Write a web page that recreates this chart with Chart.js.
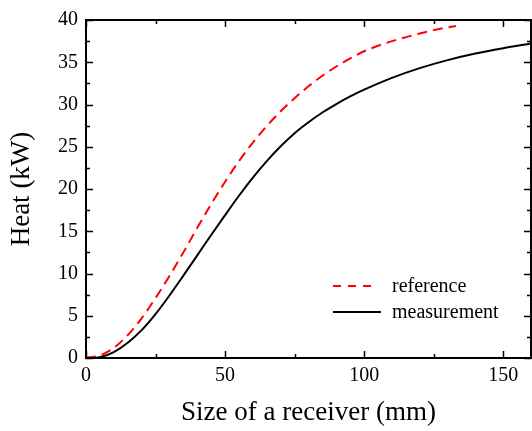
<!DOCTYPE html>
<html>
<head>
<meta charset="utf-8">
<script src="https://cdn.jsdelivr.net/npm/chart.js@4/dist/chart.umd.min.js"></script>
<style>
  html, body { margin: 0; padding: 0; background: #fff; }
  #wrap { width: 532px; height: 431px; position: relative; }
</style>
</head>
<body>
<div id="wrap"><canvas id="c" width="532" height="431"></canvas></div>
<script>
// ---- data ----
const measX = [0, 5, 10, 15, 20, 25, 30, 35, 40, 45, 50, 55, 60, 65, 70, 75, 80, 85, 90, 95, 100, 110, 120, 130, 140, 150, 160];
const measY = [0, 0.1, 0.7, 1.8, 3.3, 5.2, 7.4, 9.75, 12.15, 14.55, 16.9, 19.2, 21.35, 23.3, 25.05, 26.6, 27.9, 29.05, 30.05, 30.95, 31.75, 33.15, 34.3, 35.25, 36.03, 36.66, 37.21];
const refX = [0, 5, 10, 15, 20, 25, 30, 35, 40, 45, 50, 55, 60, 65, 70, 75, 80, 85, 90, 95, 100, 110, 120, 125, 133];
const refY = [0, 0.3, 1.2, 2.7, 4.7, 7.1, 9.7, 12.5, 15.4, 18.2, 20.85, 23.3, 25.5, 27.45, 29.2, 30.75, 32.15, 33.4, 34.5, 35.45, 36.3, 37.5, 38.4, 38.8, 39.3];
const seriesNames = ["reference", "measurement"];
const xTicks = [0, 50, 100, 150];
const yTicks = [0, 5, 10, 15, 20, 25, 30, 35, 40];
const xTitle = "Size of a receiver (mm)";
const yTitle = "Heat (kW)";

const FONT = "'Liberation Serif', 'Times New Roman', serif";

function pts(xs, ys) { return xs.map((x, i) => ({ x: x, y: ys[i] })); }

const framePlugin = {
  id: 'frame',
  afterDraw(chart) {
    const ctx = chart.ctx;
    const a = chart.chartArea;
    const xs = chart.scales.x, ys = chart.scales.y;
    ctx.save();
    ctx.strokeStyle = '#000';
    ctx.lineWidth = 1.5;
    ctx.beginPath();
    for (let v = 0; v <= 160; v += 25) {
      const px = Math.round(xs.getPixelForValue(v)) + 0.5;
      const len = (v % 50 === 0) ? 7 : 4;
      ctx.moveTo(px, a.bottom); ctx.lineTo(px, a.bottom - len);
      ctx.moveTo(px, a.top); ctx.lineTo(px, a.top + len);
    }
    for (let v = 0; v <= 40; v += 2.5) {
      const py = Math.round(ys.getPixelForValue(v)) + 0.5;
      const len = (v % 5 === 0) ? 7 : 4;
      ctx.moveTo(a.left, py); ctx.lineTo(a.left + len, py);
      ctx.moveTo(a.right, py); ctx.lineTo(a.right - len, py);
    }
    ctx.stroke();
    ctx.lineWidth = 2;
    ctx.strokeRect(a.left, a.top, a.right - a.left, a.bottom - a.top);

    // legend
    const items = chart.data.datasets;
    const lx0 = 333, lx1 = 381, tx = 392;
    const rows = [286, 312];
    ctx.font = "20px " + FONT;
    ctx.textBaseline = 'middle';
    ctx.textAlign = 'left';
    items.forEach((ds, i) => {
      ctx.save();
      ctx.strokeStyle = ds.borderColor;
      ctx.lineWidth = ds.borderWidth;
      ctx.setLineDash(ds.borderDash ? [8, 7] : []);
      ctx.beginPath();
      ctx.moveTo(lx0, rows[i]);
      ctx.lineTo(ds.borderDash ? 374 : lx1, rows[i]);
      ctx.stroke();
      ctx.restore();
      ctx.fillStyle = '#000';
      ctx.fillText(ds.label, tx, rows[i] + 1);
    });
    ctx.restore();
  }
};

new Chart(document.getElementById('c'), {
  type: 'line',
  data: {
    datasets: [
      { label: seriesNames[0], data: pts(refX, refY), borderColor: '#ff0000', borderWidth: 2, borderDash: [10, 6], pointRadius: 0, cubicInterpolationMode: 'monotone', fill: false },
      { label: seriesNames[1], data: pts(measX, measY), borderColor: '#000000', borderWidth: 2, pointRadius: 0, cubicInterpolationMode: 'monotone', fill: false }
    ]
  },
  options: {
    responsive: false,
    animation: false,
    events: [],
    layout: { padding: { top: 18, right: 1, left: 0, bottom: 0 } },
    plugins: { legend: { display: false }, tooltip: { enabled: false } },
    scales: {
      x: {
        type: 'linear', min: 0, max: 160,
        afterBuildTicks(s) { s.ticks = xTicks.map(v => ({ value: v })); },
        afterFit(s) { s.height = 73; },
        grid: { display: false, drawTicks: false },
        border: { display: false },
        ticks: { color: '#000', padding: 6, maxRotation: 0, font: { family: FONT, size: 20 } },
        title: { display: true, text: xTitle, color: '#000', padding: { top: 0, bottom: 2 }, font: { family: FONT, size: 27, lineHeight: 1.2 } }
      },
      y: {
        type: 'linear', min: 0, max: 40,
        afterBuildTicks(s) { s.ticks = yTicks.map(v => ({ value: v })); },
        afterFit(s) { s.width = 86; },
        grid: { display: false, drawTicks: false },
        border: { display: false },
        ticks: { color: '#000', padding: 8, font: { family: FONT, size: 20 } },
        title: { display: true, text: yTitle, color: '#000', padding: { top: 6, bottom: 0 }, font: { family: FONT, size: 27, lineHeight: 1.2 } }
      }
    }
  },
  plugins: [framePlugin]
});
</script>
</body>
</html>
